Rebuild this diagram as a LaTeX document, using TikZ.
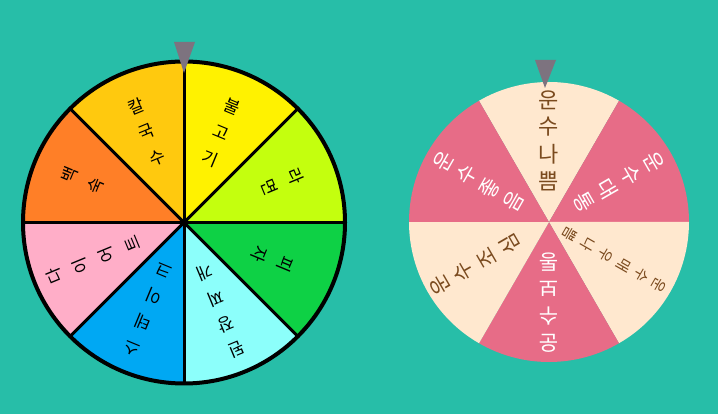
\documentclass[tikz,border=0pt]{standalone}
\usepackage{fontspec}
\newfontfamily\kr{Noto Sans CJK KR}
\definecolor{bg}{HTML}{27BEA8}
\definecolor{cgold}{HTML}{FFC90E}
\definecolor{cyellow}{HTML}{FFF200}
\definecolor{clime}{HTML}{C4FF0E}
\definecolor{cgreen}{HTML}{0ED145}
\definecolor{ccyan}{HTML}{8CFFFB}
\definecolor{cblue}{HTML}{00A8F3}
\definecolor{cpink}{HTML}{FFAEC8}
\definecolor{corange}{HTML}{FF7F27}
\definecolor{rpink}{HTML}{E76C87}
\definecolor{rcream}{HTML}{FFE8CF}
\definecolor{rbrown}{HTML}{7A4A1E}
\definecolor{pgray}{HTML}{7D737F}
\tikzset{
  lchar/.style={font=\kr\fontsize{17}{17}\selectfont, text=black, inner sep=0pt},
  divider/.style={line width=3pt, black},
  rim/.style={line width=4pt, black}
}
\begin{document}
\begin{tikzpicture}[x=1pt,y=1pt]
\useasboundingbox (0,0) rectangle (718,414);
\fill[bg] (0,0) rectangle (718,414);

% ---------- left wheel ----------
\begin{scope}[shift={(184,191.5)}]
  \def\R{161}
  \foreach \a/\c in {90/cgold,45/cyellow,0/clime,-45/cgreen,-90/ccyan,-135/cblue,-180/cpink,135/corange}{
    \fill[\c] (0,0) -- (\a:\R) arc[start angle=\a, delta angle=45, radius=\R] -- cycle;
  }
  \foreach \a in {0,45,...,315}{
    \draw[divider] (0,0) -- (\a:\R);
  }
  \draw[rim] (0,0) circle (\R);
  \fill (0,0) circle (3);
  \foreach \s/\th/\r/\txt in {1/112.5/126/{칼,국,수},2/67.5/125/{불,고,기},3/22.5/121/{라,면},4/-22.5/110/{피,자},5/-67.5/138/{된,장,찌,개},6/-112.5/136/{스,테,이,크},7/202.5/140/{다,이,어,트},8/157.5/124/{백,숙}}{
    \foreach \ch [count=\k from 0] in \txt {
      \pgfmathsetmacro\rr{\r-\k*28}
      \node[lchar, rotate=\th-90] (l\s-\k) at (\th:\rr) {\ch};
    }
  }
\end{scope}

% ---------- right wheel ----------
\begin{scope}[shift={(549,192)}]
  \def\R{140}
  \foreach \a/\c in {60/rcream,0/rpink,-60/rcream,-120/rpink,-180/rcream,120/rpink}{
    \fill[\c] (0,0) -- (\a:\R) arc[start angle=\a, delta angle=60, radius=\R] -- cycle;
  }
  \foreach \s/\th/\r/\d/\fs/\col/\txt in {1/90/122/27/22/rbrown/{운,수,나,쁨},2/30/121/27/21/white/{운,수,대,통},3/-30/127/20.5/15/rbrown/{운,수,매,우,나,쁨},4/-90/121/27/21/white/{운,수,보,통},5/210/126/27/21/rbrown/{운,수,조,심},6/150/122/27/21/white/{운,수,좋,음}}{
    \foreach \ch [count=\k from 0] in \txt {
      \pgfmathsetmacro\rr{\r-\k*\d}
      \node[font=\kr\fontsize{\fs}{\fs}\selectfont, text=\col, inner sep=0pt, rotate=\th-90] (r\s-\k) at (\th:\rr) {\ch};
    }
  }
\end{scope}

% ---------- pointers ----------
\fill[pgray] (174,372) -- (195,372) -- (184,341) -- cycle;
\fill[pgray] (535,354) -- (556,354) -- (545,326) -- cycle;
\end{tikzpicture}
\end{document}
